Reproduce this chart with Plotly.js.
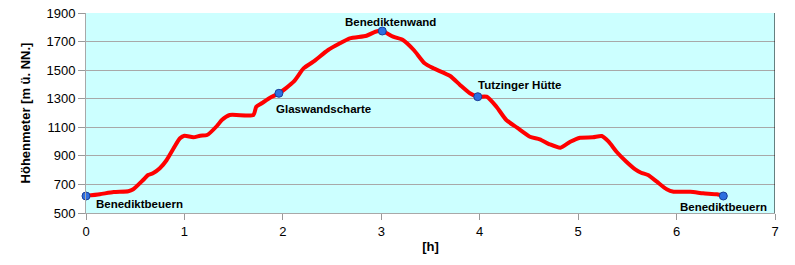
<!DOCTYPE html>
<html><head><meta charset="utf-8">
<script src="https://cdn.plot.ly/plotly-3.0.1.min.js"></script>
<style>body{margin:0;background:#fff}</style>
</head><body><div id="chart" style="width:795px;height:265px"></div>
<script>
// Elevation profile: time [h] vs altitude [m]
const timeH = [0, 0.14, 0.28, 0.43, 0.48, 0.58, 0.63, 0.68, 0.75, 0.82, 0.89, 0.955, 1.0, 1.09, 1.16, 1.23, 1.33, 1.38, 1.46, 1.70, 1.73, 1.785, 1.87, 1.96, 2.11, 2.21, 2.31, 2.46, 2.58, 2.68, 2.85, 2.94, 3.01, 3.12, 3.22, 3.33, 3.44, 3.53, 3.70, 3.80, 3.90, 3.98, 4.07, 4.17, 4.27, 4.38, 4.51, 4.61, 4.71, 4.82, 4.92, 5.02, 5.15, 5.24, 5.31, 5.39, 5.49, 5.58, 5.64, 5.71, 5.80, 5.90, 5.97, 6.14, 6.27, 6.41, 6.475];
const altitude = [619, 631, 647, 652, 666, 731, 766, 778, 813, 871, 953, 1023, 1041, 1030, 1041, 1046, 1109, 1151, 1186, 1186, 1244, 1268, 1307, 1338, 1419, 1512, 1559, 1641, 1688, 1723, 1741, 1769, 1774, 1734, 1711, 1641, 1548, 1513, 1459, 1396, 1338, 1314, 1314, 1244, 1151, 1097, 1034, 1016, 981, 957, 999, 1027, 1030, 1039, 999, 929, 859, 806, 782, 766, 719, 666, 649, 649, 638, 631, 619];
const placeNames = ["Benediktbeuern", "Glaswandscharte", "Benediktenwand", "Tutzinger Hütte", "Benediktbeuern"];
const placeTime = [0, 1.96, 3.01, 3.98, 6.475];
const placeAlt = [619, 1338, 1774, 1314, 619];
const xTicks = [0, 1, 2, 3, 4, 5, 6, 7];
const yTicks = [500, 700, 900, 1100, 1300, 1500, 1700, 1900];

const labelPos = [
  {xanchor: "left", yanchor: "top", xshift: 8, yshift: 0},
  {xanchor: "left", yanchor: "top", xshift: -5, yshift: -8},
  {xanchor: "center", yanchor: "bottom", xshift: 8, yshift: 1},
  {xanchor: "left", yanchor: "bottom", xshift: -2, yshift: 4},
  {xanchor: "right", yanchor: "top", xshift: 46, yshift: -3}
];

const traces = [
  {x: timeH, y: altitude, type: "scatter", mode: "lines",
   line: {color: "#FF0000", width: 4, shape: "spline", smoothing: 0.6}, hoverinfo: "skip"},
  {x: placeTime, y: placeAlt, type: "scatter", mode: "markers", cliponaxis: false,
   marker: {color: "#2E6FE0", size: 8, line: {color: "#1A3F99", width: 1}}, hoverinfo: "skip"}
];

const annotations = placeNames.map((n, i) => Object.assign({
  x: placeTime[i], y: placeAlt[i], xref: "x", yref: "y", text: "<b>" + n + "</b>",
  showarrow: false, font: {family: "Liberation Sans, Arial, sans-serif", size: 11.5, color: "#000"}
}, labelPos[i]));

const layout = {
  width: 795, height: 265,
  margin: {l: 86, r: 20, t: 13, b: 52},
  paper_bgcolor: "#FFFFFF", plot_bgcolor: "#CCFFFF",
  showlegend: false,
  font: {family: "Liberation Sans, Arial, sans-serif", size: 13, color: "#000"},
  xaxis: {range: [0, 7], tickvals: xTicks, ticktext: xTicks.map(String), showgrid: false, zeroline: false,
          ticks: "outside", ticklen: 6, tickcolor: "#999", showline: true, linecolor: "#A8A8A8", linewidth: 1,
          tickfont: {size: 13},
          title: {text: "<b>[h]</b>", font: {size: 13}, standoff: 4}, fixedrange: true},
  yaxis: {range: [500, 1900], tickvals: yTicks, ticktext: yTicks.map(String), showgrid: true, gridcolor: "#A8A8A8", gridwidth: 1,
          zeroline: false, ticks: "outside", ticklen: 7, tickcolor: "#999", showline: true, linecolor: "#A8A8A8", linewidth: 1,
          tickfont: {size: 13},
          title: {text: "<b>Höhenmeter [m ü. NN.]</b>", font: {size: 13}, standoff: 12}, fixedrange: true},
  shapes: [
    {type: "line", xref: "x", yref: "y", x0: 7, x1: 7, y0: 500, y1: 1900, line: {color: "#000", width: 1}}
  ],
  annotations: annotations
};

Plotly.newPlot("chart", traces, layout, {displayModeBar: false, staticPlot: true});
</script></body></html>
